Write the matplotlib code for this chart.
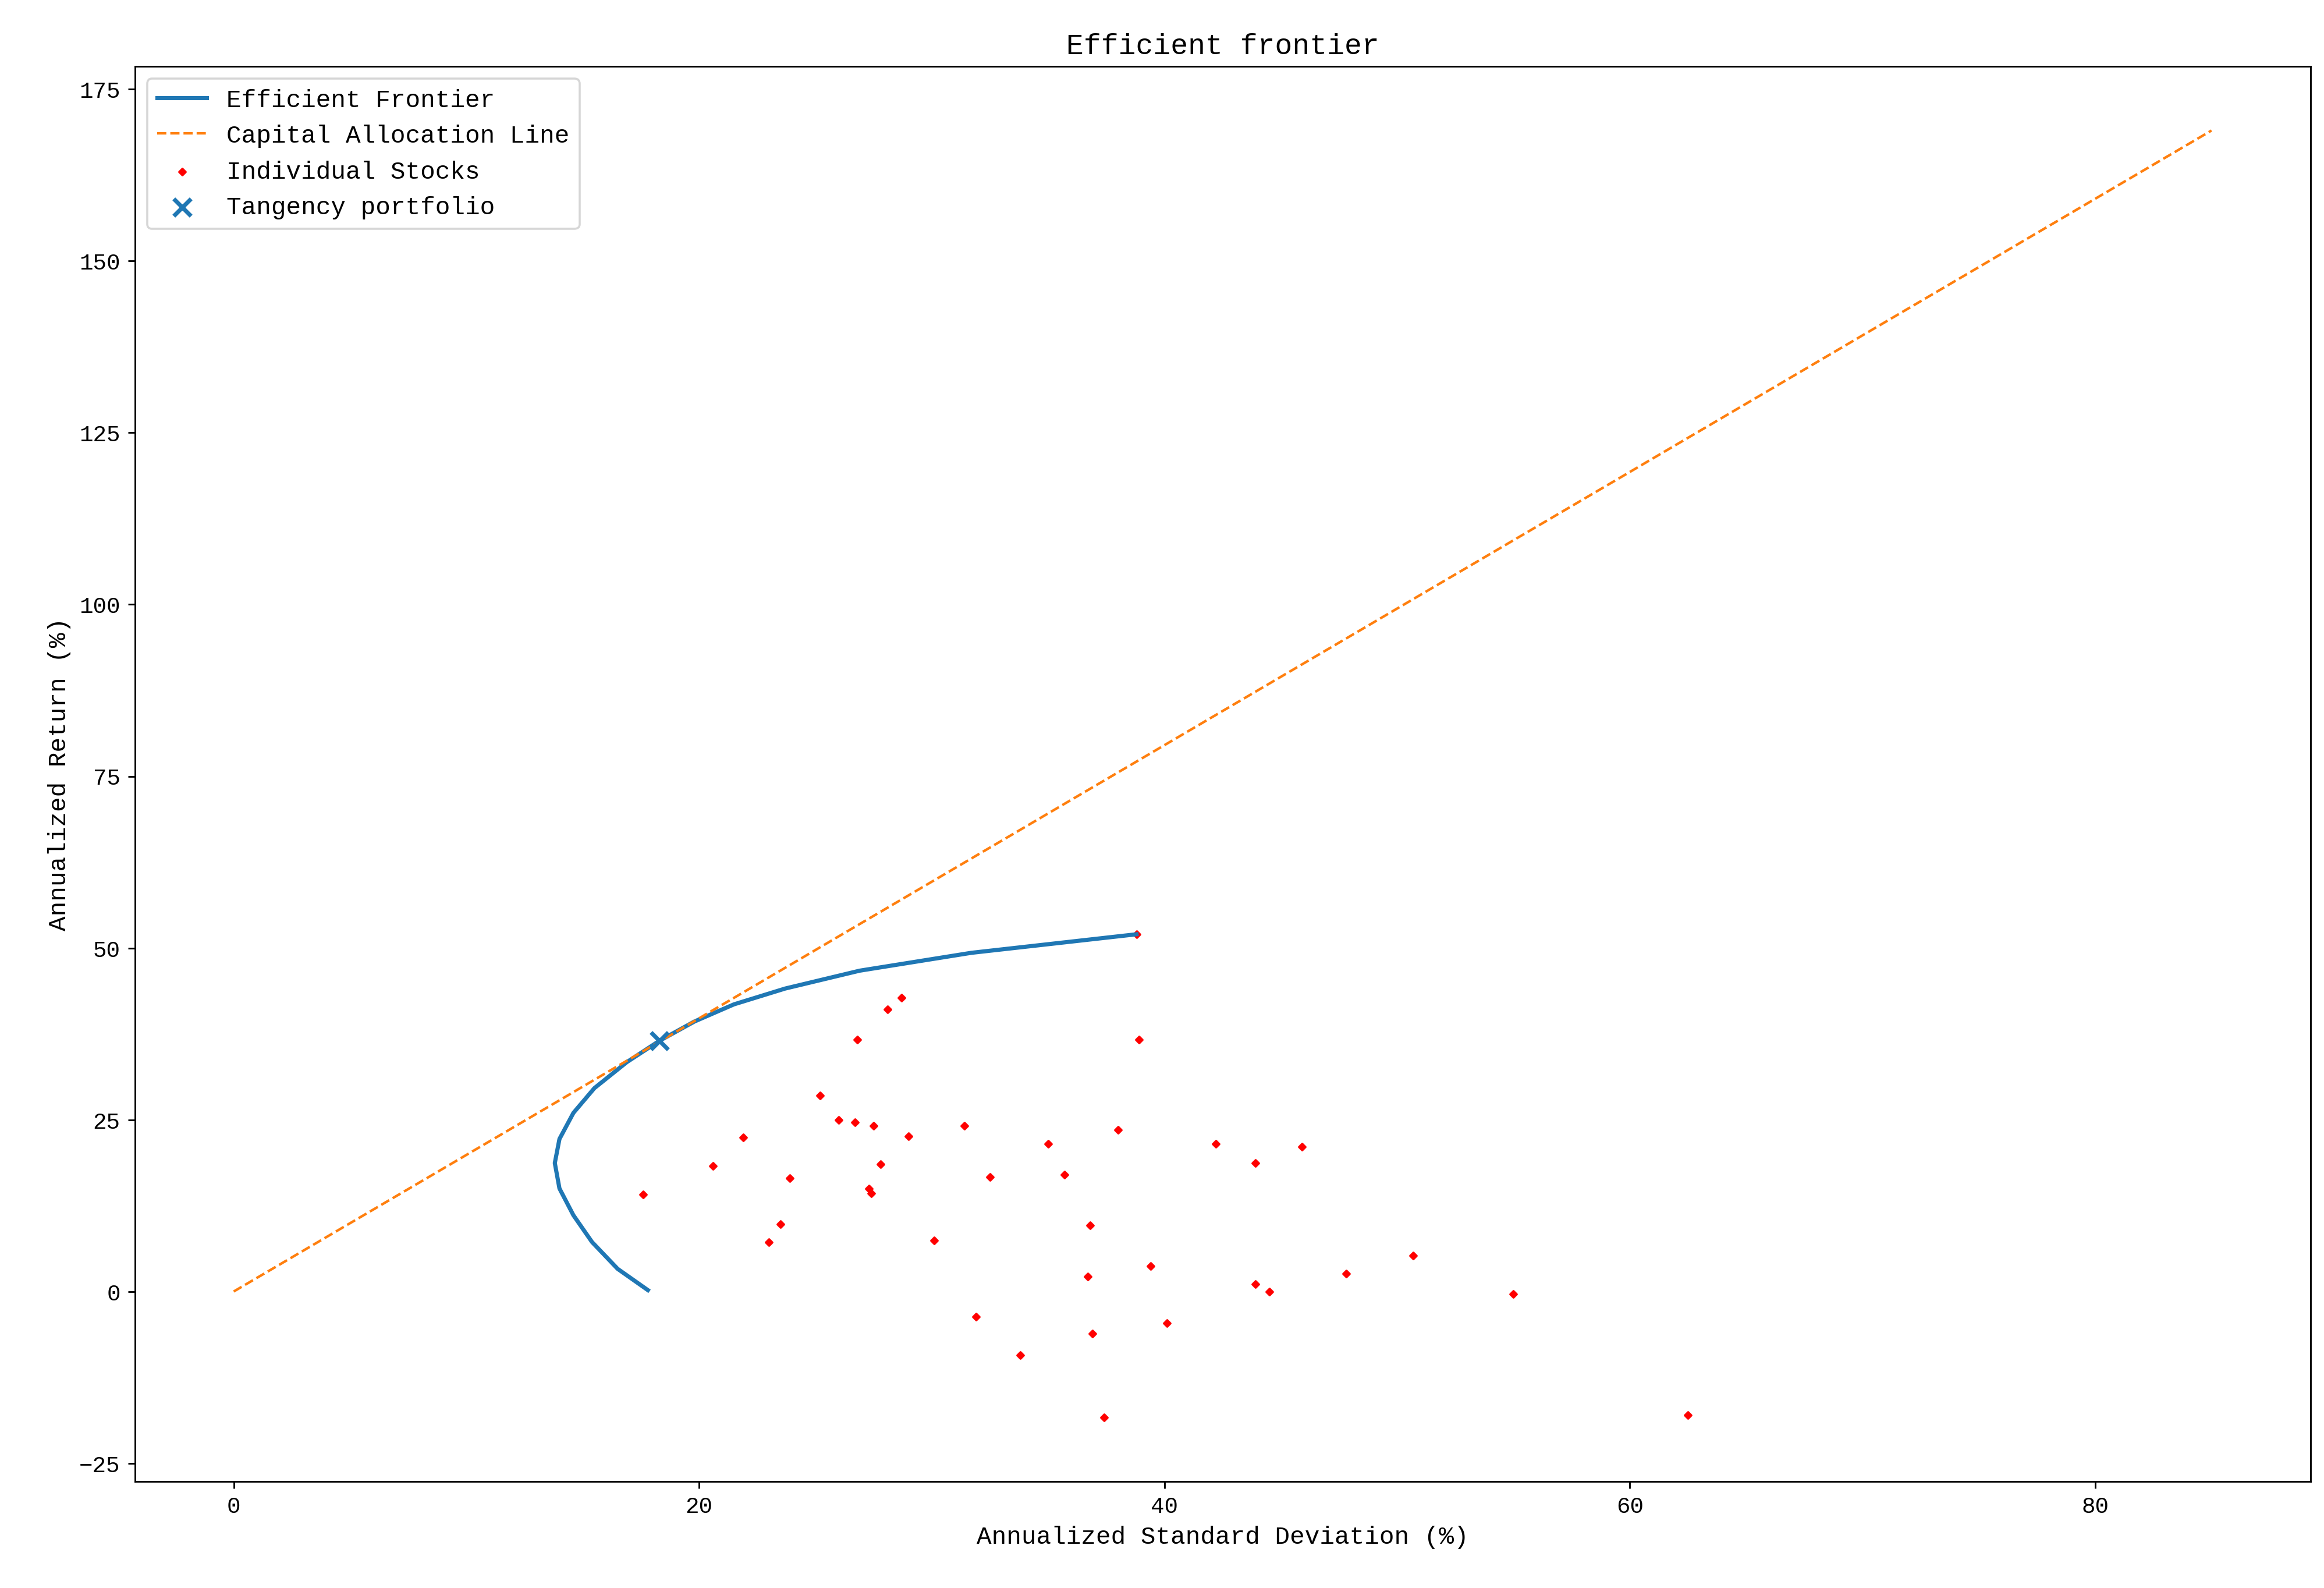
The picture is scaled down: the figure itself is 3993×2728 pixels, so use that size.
import matplotlib
matplotlib.use('Agg')
import matplotlib.pyplot as plt

plt.rcParams['font.family'] = ['Liberation Mono', 'DejaVu Sans Mono']

# 個股 (標準差 %, 報酬 %)
stock_sd = [17.6, 20.6, 21.9, 23.0, 23.5, 23.9, 25.2, 26.0, 26.7, 26.8, 27.5, 27.3, 27.4, 27.8,
            28.1, 28.7, 29.0, 30.1, 31.4, 31.9, 32.5, 33.8, 35.0, 35.7, 36.7, 36.8, 36.9, 37.4,
            38.0, 38.8, 38.9, 39.4, 40.1, 42.2, 43.9, 43.9, 44.5, 45.9, 47.8, 50.7, 55.0, 62.5]
stock_ret = [14.1, 18.3, 22.4, 7.2, 9.8, 16.5, 28.5, 25.0, 24.6, 36.7, 24.1, 15.0, 14.3, 18.5,
             41.1, 42.8, 22.6, 7.4, 24.1, -3.7, 16.7, -9.3, 21.5, 17.0, 2.2, 9.6, -6.1, -18.3,
             23.5, 52.0, 36.7, 3.7, -4.6, 21.5, 1.1, 18.7, 0.0, 21.1, 2.6, 5.2, -0.4, -18.0]

# 效率前緣
ef_sd = [17.8, 16.5, 15.4, 14.6, 14.0, 13.8, 14.0, 14.6, 15.5, 16.9, 18.3, 19.8, 21.5, 23.7, 26.9, 31.7, 38.8]
ef_ret = [0.2, 3.3, 7.2, 11.1, 15.0, 18.7, 22.2, 26.0, 29.6, 33.4, 36.5, 39.3, 41.8, 44.1, 46.7, 49.3, 52.0]

# 資本配置線
cal_sd = [0, 85]
cal_ret = [0, 169]

tan_sd, tan_ret = 18.3, 36.5

fig = plt.figure(figsize=(15.6, 10.66), dpi=256)
ax = fig.add_axes([0.058, 0.067, 0.936, 0.891])
ax.plot(ef_sd, ef_ret, linewidth=2, label='Efficient Frontier')
ax.plot(cal_sd, cal_ret, '--', linewidth=1.2, label='Capital Allocation Line')
ax.scatter(stock_sd, stock_ret, s=5, marker='D', color='red', label='Individual Stocks')
ax.scatter([tan_sd], [tan_ret], marker='x', s=70, linewidths=2, color='#1f77b4',
           label='Tangency portfolio', zorder=3)

ax.set_title('Efficient frontier', fontsize=14)
ax.set_xlabel('Annualized Standard Deviation (%)', fontsize=12)
ax.set_ylabel('Annualized Return (%)', fontsize=12)
ax.tick_params(labelsize=11)
ax.legend(loc='upper left', fontsize=12)

plt.savefig('out.png', dpi=256)
